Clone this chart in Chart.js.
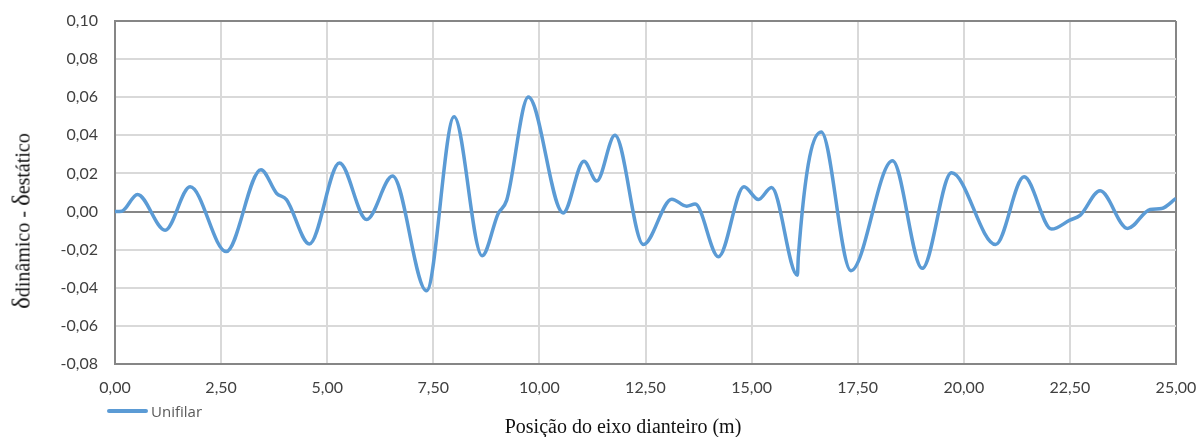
<!DOCTYPE html>
<html>
<head>
<meta charset="utf-8">
<script src="https://cdn.jsdelivr.net/npm/chart.js@4"></script>
<style>
  body { margin: 0; background: #fff; overflow: hidden; }
  #wrap { position: relative; width: 1199px; height: 437px; }
  #yTitle {
    position: absolute; left: 22px; top: 221px;
    transform: translate(-50%, -50%) rotate(-90deg);
    font-family: "Liberation Serif", serif; font-size: 20px; color: #111;
    white-space: nowrap; line-height: 24px;
  }
  #yTitle .d { font-size: 25px; }
  #xTitle {
    position: absolute; left: 623px; top: 426px;
    transform: translate(-50%, -50%);
    font-family: "Liberation Serif", serif; font-size: 20px; color: #111;
    white-space: nowrap; line-height: 20px;
  }
  #legend {
    position: absolute; left: 107px; top: 401px;
    font-family: "Open Sans", sans-serif; font-size: 15px; color: #595959;
    display: flex; align-items: center;
  }
  #legend .swatch { width: 41px; height: 3.5px; background: #5B9BD5; border-radius: 2px; margin-right: 3px; }
</style>
</head>
<body>
<div id="wrap">
  <canvas id="chart" width="1199" height="437"></canvas>
  <div id="yTitle"><span class="d">δ</span>dinâmico - <span class="d">δ</span>estático</div>
  <div id="legend"><span class="swatch"></span><span>Unifilar</span></div>
  <div id="xTitle">Posição do eixo dianteiro (m)</div>
</div>
<script>
// ----------- data --------------------------------- //
const seriesName = "Unifilar";

// position of the front axle (m)
const positions = [0, 0.16, 0.53, 1.18, 1.77, 2.62, 3.44, 3.81, 4.04, 4.58,
  5.29, 5.93, 6.54, 7.34, 7.99, 8.65, 9.03, 9.23, 9.74, 10.56,
  11.05, 11.35, 11.78, 12.45, 13.12, 13.47, 13.67, 14.22, 14.82, 15.16,
  15.47, 16.08, 16.10, 16.64, 17.34, 18.32, 19.02, 19.71, 20.75, 21.42,
  22.07, 22.50, 22.74, 23.21, 23.86, 24.39, 24.66, 25.00];

// dynamic - static deflection
const deltas = [0, 0.0002, 0.0090, -0.0098, 0.0130, -0.0210, 0.0220, 0.0095, 0.0063, -0.0170,
  0.0255, -0.0042, 0.0186, -0.0416, 0.0497, -0.0232, -0.0010, 0.0060, 0.0601, -0.0007,
  0.0264, 0.0160, 0.0400, -0.0173, 0.0065, 0.0028, 0.0039, -0.0237, 0.0130, 0.0063,
  0.0126, -0.0334, -0.0240, 0.0418, -0.0310, 0.0266, -0.0298, 0.0203, -0.0173, 0.0182,
  -0.0092, -0.0045, -0.0020, 0.0109, -0.0089, 0.0011, 0.0016, 0.0069];

const xTicks = { min: 0, max: 25, step: 2.5 };
const yTicks = { min: -0.08, max: 0.10, step: 0.02 };

const points = positions.map((x, i) => ({ x: x, y: deltas[i] }));

const comma = v => Number(v).toFixed(2).replace('.', ',');

const gridGray = '#d9d9d9';
const axisGray = '#868686';
const tickFont = { family: 'Lato', size: 16 };

new Chart(document.getElementById('chart'), {
  type: 'line',
  data: {
    datasets: [{
      label: seriesName,
      data: points,
      borderColor: '#5B9BD5',
      borderWidth: 3.5,
      pointRadius: 0,
      fill: false,
      cubicInterpolationMode: 'monotone'
    }]
  },
  options: {
    responsive: false,
    animation: false,
    layout: { padding: 0 },
    plugins: {
      legend: { display: false },
      tooltip: { enabled: false }
    },
    scales: {
      x: {
        type: 'linear',
        min: xTicks.min,
        max: xTicks.max,
        afterFit: s => { s.height = 73; s.paddingRight = 23; s.paddingLeft = 0; },
        ticks: {
          stepSize: xTicks.step,
          autoSkip: false,
          maxRotation: 0,
          padding: 14,
          color: '#404040',
          font: tickFont,
          callback: v => comma(v)
        },
        grid: {
          drawTicks: false,
          lineWidth: 2,
          color: c => (c.tick && c.tick.value === xTicks.max) ? axisGray : gridGray
        },
        border: { color: axisGray, width: 2 }
      },
      y: {
        min: yTicks.min,
        max: yTicks.max,
        afterFit: s => { s.width = 115; s.paddingTop = 21; s.paddingBottom = 0; },
        ticks: {
          stepSize: yTicks.step,
          padding: 17,
          color: '#404040',
          font: tickFont,
          callback: v => comma(v)
        },
        grid: {
          drawTicks: false,
          lineWidth: 2,
          color: c => {
            const v = c.tick ? c.tick.value : null;
            if (v !== null && (Math.abs(v) < 1e-9 || Math.abs(v - yTicks.max) < 1e-9)) return axisGray;
            return gridGray;
          }
        },
        border: { color: axisGray, width: 2 }
      }
    }
  }
});
</script>
</body>
</html>
